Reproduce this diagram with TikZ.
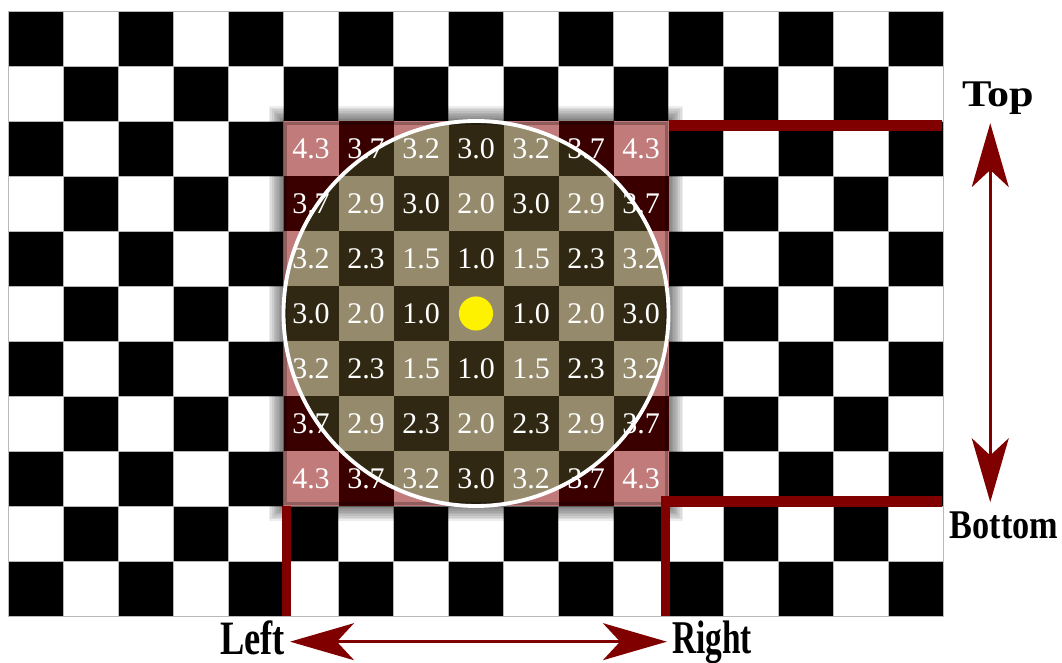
\documentclass[tikz,border=0pt]{standalone}
\usepackage{fontspec}
\setmainfont{Liberation Serif}
\usetikzlibrary{arrows.meta}

\definecolor{maroonline}{HTML}{800000}
\definecolor{pinkcell}{HTML}{C27B7B}
\definecolor{redcell}{HTML}{3A0000}
\definecolor{tancell}{HTML}{958A6C}
\definecolor{olivecell}{HTML}{302812}

\tikzset{
  number/.style={text=white, inner sep=0pt, font=\fontsize{15.5}{16}\selectfont},
  sidelabel/.style={inner sep=0pt, anchor=base, transform shape},
  bound/.style={maroonline, line width=5pt},
  dblarrow/.style={maroonline, line width=1.8pt,
    {Stealth[length=1.16cm,width=0.67cm,inset=0.31cm]}-{Stealth[length=1.16cm,width=0.67cm,inset=0.31cm]}},
}

\begin{document}
\begin{tikzpicture}
    \useasboundingbox (-0.1545,-0.8545) rectangle (19.1545,11.2);
    % board
    \foreach \c in {0,...,16}
      \foreach \r in {0,...,10} {
        \pgfmathtruncatemacro\k{mod(\c+\r,2)}
        \ifnum\k=0 \fill[black] (\c,\r) rectangle ++(1,1); \fi
      }
    \draw[gray!55, line width=0.4pt] (0,0) grid (17,11);
    % soft shadow round the window
    \foreach \d in {0.03,0.06,...,0.27}
      \fill[black, opacity=0.07] (5-\d,2-\d) rectangle (12+\d,9+\d);
    % window cells, red outside the circle
    \foreach \c in {5,...,11}
      \foreach \r in {2,...,8} {
        \pgfmathtruncatemacro\k{mod(\c+\r,2)}
        \ifnum\k=0 \fill[redcell] (\c,\r) rectangle ++(1,1);
        \else \fill[pinkcell] (\c,\r) rectangle ++(1,1); \fi
      }
    \begin{scope}
      \clip (8.5,5.5) circle (3.5);
      \foreach \c in {5,...,11}
        \foreach \r in {2,...,8} {
          \pgfmathtruncatemacro\k{mod(\c+\r,2)}
          \ifnum\k=0 \fill[olivecell] (\c,\r) rectangle ++(1,1);
          \else \fill[tancell] (\c,\r) rectangle ++(1,1); \fi
        }
    \end{scope}
    \draw[black, opacity=0.25, line width=1.5pt] (5.04,2.04) rectangle (11.96,8.96);
    \draw[white, line width=2pt] (8.5,5.5) circle (3.5);
    \fill[yellow] (8.5,5.5) circle (0.31);
    % distances
    \foreach \row [count=\i from 0] in {
        {4.3,3.7,3.2,3.0,3.2,3.7,4.3},
        {3.7,2.9,3.0,2.0,3.0,2.9,3.7},
        {3.2,2.3,1.5,1.0,1.5,2.3,3.2},
        {3.0,2.0,1.0,{},1.0,2.0,3.0},
        {3.2,2.3,1.5,1.0,1.5,2.3,3.2},
        {3.7,2.9,2.3,2.0,2.3,2.9,3.7},
        {4.3,3.7,3.2,3.0,3.2,3.7,4.3}}
      \foreach \v [count=\j from 0] in \row
        \node[number] (n\i\j) at (5.5+\j,8.5-\i) {\v};
    % borders
    \draw[bound, line width=5.7pt] (12,8.91) -- (16.98,8.91);
    \draw[bound, line width=4.7pt] (5.06,2) -- (5.06,0);
    \draw[bound, line width=5.7pt] (16.98,2.09) -- (11.94,2.09);
    \draw[bound, line width=4.7pt] (11.94,2.18) -- (11.94,0);
    % arrows and labels
    \coordinate (toptip) at (17.85,8.96);
    \coordinate (bottip) at (17.85,2.07);
    \coordinate (lefttip) at (5.12,-0.467);
    \coordinate (righttip) at (11.97,-0.467);
    \draw[dblarrow] (toptip) -- (bottip);
    \draw[dblarrow] (lefttip) -- (righttip);
    \node[sidelabel, xscale=1.17, font=\bfseries\fontsize{19.5}{20}\selectfont] (top) at (18.0,9.26) {Top};
    \node[sidelabel, xscale=0.84, font=\bfseries\fontsize{21.1}{22}\selectfont] (bottom) at (18.1,1.4) {Bottom};
    \node[sidelabel, xscale=0.76, font=\bfseries\fontsize{24.8}{25}\selectfont] (left) at (4.44,-0.709) {Left};
    \node[sidelabel, xscale=0.71, font=\bfseries\fontsize{24.3}{25}\selectfont] (right) at (12.79,-0.673) {Right};
  \end{tikzpicture}
\end{document}
